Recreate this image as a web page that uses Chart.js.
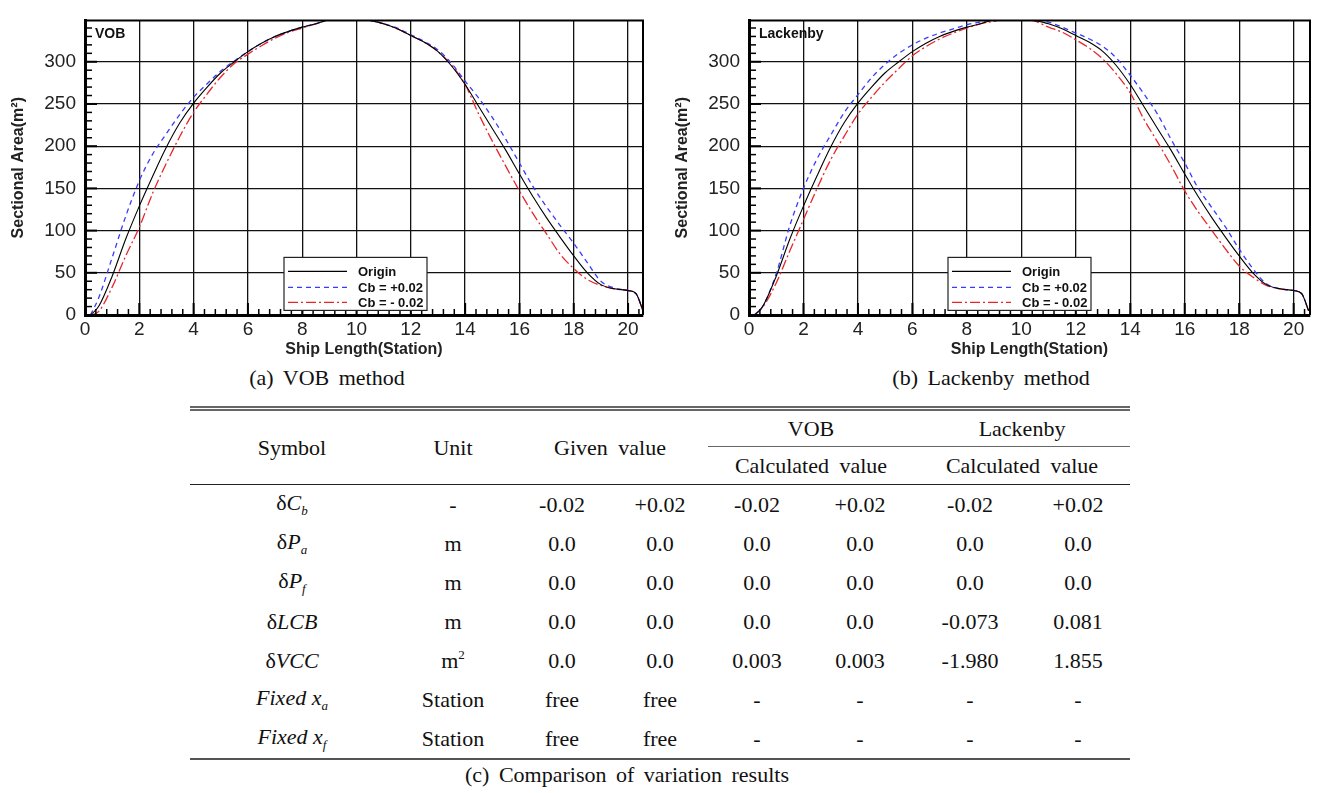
<!DOCTYPE html>
<html>
<head>
<meta charset="utf-8">
<script src="https://cdn.jsdelivr.net/npm/chart.js@4.4.0/dist/chart.umd.min.js"></script>
<style>
  body { margin: 0; width: 1319px; height: 793px; background: #fff; position: relative; overflow: hidden; }
  canvas { position: absolute; top: 0; }
  #chartA { left: 0; }
  #chartB { left: 664px; }
  .caption { position: absolute; font-family: "Liberation Serif", serif; font-size: 22px; line-height: 26px;
             color: #111; text-align: center; word-spacing: 4px; white-space: nowrap; }
  #tbl { position: absolute; left: 190px; top: 406px; width: 940px; border-collapse: collapse; table-layout: fixed;
         font-family: "Liberation Serif", serif; font-size: 22px; color: #111; }
  #tbl td { text-align: center; vertical-align: middle; padding: 0; white-space: nowrap; }
  #tbl tr.h1 td { height: 35px; }
  #tbl tr.h2 td { height: 37px; }
  #tbl tbody td { height: 39px; }
  #tbl { border-top: 5px double #666; border-bottom: 2px solid #555; }
  #tbl td.grp { border-bottom: 1.5px solid #666; }
  #tbl tr.h2 td, #tbl td.rs { border-bottom: 1.5px solid #222; }
  #tbl i { font-style: italic; }
  #tbl sub { font-size: 13px; vertical-align: -5px; }
  #tbl sup { font-size: 13px; vertical-align: 9px; }
  .ws { word-spacing: 5px; }
</style>
</head>
<body>
<canvas id="chartA" width="660" height="365"></canvas>
<canvas id="chartB" width="660" height="365"></canvas>
<div class="caption" style="left:127px; top:365px; width:400px;">(a) VOB method</div>
<div class="caption" style="left:791px; top:365px; width:400px;">(b) Lackenby method</div>

<table id="tbl">
  <colgroup>
    <col style="width:204px"><col style="width:118px"><col style="width:100px"><col style="width:96px">
    <col style="width:98px"><col style="width:108px"><col style="width:112px"><col style="width:104px">
  </colgroup>
  <thead>
    <tr class="h1">
      <td rowspan="2" class="rs">Symbol</td>
      <td rowspan="2" class="rs">Unit</td>
      <td rowspan="2" colspan="2" class="rs ws">Given value</td>
      <td colspan="2" class="grp">VOB</td>
      <td colspan="2" class="grp">Lackenby</td>
    </tr>
    <tr class="h2">
      <td colspan="2" class="ws">Calculated value</td>
      <td colspan="2" class="ws">Calculated value</td>
    </tr>
  </thead>
  <tbody id="tbody"></tbody>
</table>
<div class="caption" style="left:327px; top:762px; width:600px;">(c) Comparison of variation results</div>

<script>
// Ship stations (x) shared by every curve
const stations = [0.2, 0.5, 1, 1.5, 2, 2.5, 3, 3.5, 4, 4.5, 5, 5.5, 6, 6.5, 7, 7.5, 8, 8.5, 9, 9.5,
  10, 10.5, 11, 11.5, 12, 12.5, 13, 13.5, 14, 14.5, 15, 15.5, 16, 16.5, 17, 17.5, 18, 18.5, 19, 19.5,
  20, 20.3, 20.55];

// Sectional area (m^2)
const originArea = [0, 10, 46, 90, 129, 165, 199, 228, 251, 270, 287, 300, 312, 322, 330, 336, 341, 345, 350, 352,
  352, 349, 345, 339, 331, 323, 312, 295, 273, 247, 221, 195, 167, 140, 115, 92, 70, 50, 36, 31,
  29, 25, 5];
const vobPlusArea = [0, 20, 68, 117, 159, 191, 215, 238, 258, 274, 289, 301, 312, 322, 330, 336, 341, 345, 350, 352,
  352, 349, 345, 340, 332, 324, 314, 298, 277, 257, 234, 208, 180, 152, 128, 106, 85, 62, 40, 32,
  29, 25, 5];
const vobMinusArea = [0, 4, 33, 70, 104, 145, 180, 212, 240, 262, 282, 298, 309, 319, 328, 335, 340, 345, 350, 352,
  352, 349, 345, 339, 331, 323, 312, 296, 273, 238, 206, 176, 147, 120, 96, 72, 55, 42, 35, 31,
  29, 25, 5];
const lackPlusArea = [0, 10, 49, 106, 150, 185, 213, 240, 261, 281, 297, 310, 320, 328, 334, 339, 344, 347, 350, 352,
  352, 350, 347, 341, 334, 327, 318, 304, 284, 262, 238, 208, 180, 150, 127, 104, 78, 55, 37, 31,
  29, 25, 5];
const lackMinusArea = [0, 9, 38, 76, 113, 150, 184, 212, 238, 258, 276, 292, 307, 318, 327, 334, 340, 345, 348, 351,
  351, 348, 341, 335, 326, 316, 303, 285, 263, 232, 205, 177, 147, 122, 100, 78, 58, 45, 35, 31,
  29, 25, 5];

const seriesLabels = ['Origin', 'Cb = +0.02', 'Cb = - 0.02'];
const xTickValues = [0, 2, 4, 6, 8, 10, 12, 14, 16, 18, 20];
const yTickValues = [0, 50, 100, 150, 200, 250, 300];
const yMax = 349;

// Table data
const tableSymbols = ['δ<i>C</i><sub><i>b</i></sub>', 'δ<i>P</i><sub><i>a</i></sub>', 'δ<i>P</i><sub><i>f</i></sub>',
  'δ<i>LCB</i>', 'δ<i>VCC</i>', '<i>Fixed x</i><sub><i>a</i></sub>', '<i>Fixed x</i><sub><i>f</i></sub>'];
const tableUnits = ['-', 'm', 'm', 'm', 'm<sup>2</sup>', 'Station', 'Station'];
const givenMinus = ['-0.02', '0.0', '0.0', '0.0', '0.0', 'free', 'free'];
const givenPlus = ['+0.02', '0.0', '0.0', '0.0', '0.0', 'free', 'free'];
const vobMinus = ['-0.02', '0.0', '0.0', '0.0', '0.003', '-', '-'];
const vobPlus = ['+0.02', '0.0', '0.0', '0.0', '0.003', '-', '-'];
const lackMinus = ['-0.02', '0.0', '0.0', '-0.073', '-1.980', '-', '-'];
const lackPlus = ['+0.02', '0.0', '0.0', '0.081', '1.855', '-', '-'];

const tbody = document.getElementById('tbody');
tableSymbols.forEach((sym, i) => {
  const tr = document.createElement('tr');
  tr.innerHTML = `<td>${sym}</td><td>${tableUnits[i]}</td><td>${givenMinus[i]}</td><td>${givenPlus[i]}</td>
    <td>${vobMinus[i]}</td><td>${vobPlus[i]}</td><td>${lackMinus[i]}</td><td>${lackPlus[i]}</td>`;
  tbody.appendChild(tr);
});

const toPoints = ys => stations.map((x, i) => ({ x: x, y: ys[i] }));

// inward ticks, frame, inset label and the boxed legend
const frameDecor = {
  id: 'frameDecor',
  afterDatasetsDraw(chart, args, opts) {
    const { ctx, chartArea: a, scales: { x, y } } = chart;
    ctx.save();
    ctx.strokeStyle = '#000';
    // x ticks every 0.4 station
    for (let i = 0; i * 0.4 <= x.max + 1e-6; i++) {
      const px = x.getPixelForValue(i * 0.4);
      const major = i % 5 === 0;
      ctx.lineWidth = major ? 2 : 1.5;
      ctx.beginPath();
      ctx.moveTo(px, a.bottom);
      ctx.lineTo(px, a.bottom - (major ? 12 : 6));
      ctx.stroke();
    }
    // y ticks every 10
    for (let v = 0; v <= y.max; v += 10) {
      const py = y.getPixelForValue(v);
      const major = v % 50 === 0;
      ctx.lineWidth = major ? 2 : 1.5;
      ctx.beginPath();
      ctx.moveTo(a.left, py);
      ctx.lineTo(a.left + (major ? 12 : 7), py);
      ctx.stroke();
    }
    // top / right frame
    ctx.lineWidth = 2;
    ctx.beginPath();
    ctx.moveTo(a.left, a.top);
    ctx.lineTo(a.right, a.top);
    ctx.lineTo(a.right, a.bottom);
    ctx.stroke();

    // method label
    ctx.fillStyle = '#111';
    ctx.font = 'bold 14px "Liberation Sans", Arial, sans-serif';
    ctx.textBaseline = 'middle';
    ctx.textAlign = 'left';
    ctx.fillText(opts.label, a.left + 10, a.top + 14);

    // legend box
    const lx = a.left + 199, ly = a.top + 237, lw = 143, lh = 53;
    ctx.fillStyle = '#fff';
    ctx.fillRect(lx, ly, lw, lh);
    ctx.lineWidth = 1.2;
    ctx.strokeStyle = '#222';
    ctx.strokeRect(lx, ly, lw, lh);
    const rows = [14, 30, 45];
    chart.data.datasets.forEach((ds, i) => {
      const ry = ly + rows[i];
      ctx.strokeStyle = ds.borderColor;
      ctx.lineWidth = ds.borderWidth;
      ctx.setLineDash(ds.borderDash || []);
      ctx.beginPath();
      ctx.moveTo(lx + 4, ry);
      ctx.lineTo(lx + 63, ry);
      ctx.stroke();
      ctx.setLineDash([]);
      ctx.fillStyle = '#111';
      ctx.font = 'bold 13px "Liberation Sans", Arial, sans-serif';
      ctx.fillText(ds.label, lx + 74, ry + 1);
    });
    ctx.restore();
  }
};

function makeChart(canvasId, label, plusArea, minusArea, xMax, padRight) {
  const ctx = document.getElementById(canvasId).getContext('2d');
  return new Chart(ctx, {
    type: 'line',
    data: {
      datasets: [
        { label: seriesLabels[0], data: toPoints(originArea), borderColor: '#000', borderWidth: 1.1 },
        { label: seriesLabels[1], data: toPoints(plusArea), borderColor: '#3a3aff', borderWidth: 1.3, borderDash: [5, 4] },
        { label: seriesLabels[2], data: toPoints(minusArea), borderColor: '#e8262a', borderWidth: 1.3, borderDash: [10, 3, 2, 3] }
      ]
    },
    options: {
      responsive: false,
      animation: false,
      layout: { padding: { top: 7, right: padRight, left: 0, bottom: 0 } },
      elements: { point: { radius: 0 }, line: { cubicInterpolationMode: 'monotone' } },
      datasets: { line: { clip: 0 } },
      plugins: {
        legend: { display: false },
        tooltip: { enabled: false },
        frameDecor: { label: label }
      },
      scales: {
        x: {
          type: 'linear', min: 0, max: xMax,
          afterBuildTicks: s => { s.ticks = xTickValues.map(v => ({ value: v })); },
          afterFit: s => { s.height = 50; },
          grid: { color: '#111', lineWidth: 1.3, drawTicks: false },
          border: { color: '#000', width: 3 },
          ticks: { padding: 3, color: '#222', autoSkip: false, maxRotation: 0,
                   font: { family: '"Liberation Sans", Arial, sans-serif', size: 19 } },
          title: { display: true, text: 'Ship Length(Station)', color: '#222', padding: { top: 0, bottom: 6 },
                   font: { family: '"Liberation Sans", Arial, sans-serif', size: 16, weight: 'bold' } }
        },
        y: {
          type: 'linear', min: 0, max: yMax,
          afterBuildTicks: s => { s.ticks = yTickValues.map(v => ({ value: v })); },
          afterFit: s => { s.width = 85; },
          grid: { color: '#111', lineWidth: 1.3, drawTicks: false },
          border: { color: '#000', width: 3 },
          ticks: { padding: 9, color: '#222', autoSkip: false,
                   font: { family: '"Liberation Sans", Arial, sans-serif', size: 19 } },
          title: { display: true, text: 'Sectional Area(m²)', color: '#222', padding: { top: 9, bottom: 0 },
                   font: { family: '"Liberation Sans", Arial, sans-serif', size: 16, weight: 'bold' } }
        }
      }
    },
    plugins: [frameDecor]
  });
}

makeChart('chartA', 'VOB', vobPlusArea, vobMinusArea, 20.55, 17);
makeChart('chartB', 'Lackenby', lackPlusArea, lackMinusArea, 20.6, 14);
</script>
</body>
</html>
